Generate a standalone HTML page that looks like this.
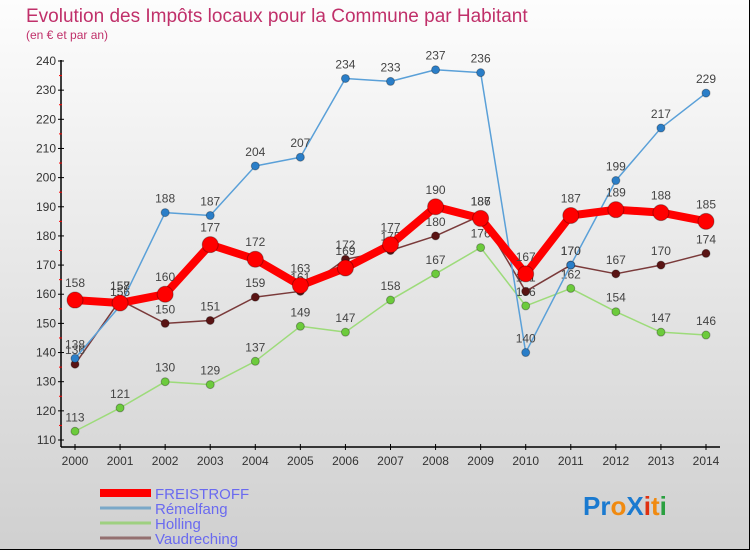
<!DOCTYPE html>
<html><head><meta charset="utf-8"><style>
body{margin:0}
#c{width:750px;height:550px;position:relative;overflow:hidden;box-sizing:border-box;border:1px solid #000;border-top:none;border-left:none;background:linear-gradient(#fdfdfd,#d0d0d0);font-family:"Liberation Sans",sans-serif}
</style></head><body>
<div id="c">
<svg id="s" width="750" height="550"></svg>
</div>
<script>
const years=[2000,2001,2002,2003,2004,2005,2006,2007,2008,2009,2010,2011,2012,2013,2014];
const freistroff=[158,157,160,177,172,163,169,177,190,186,167,187,189,188,185];
const remelfang=[138,156,188,187,204,207,234,233,237,236,140,170,199,217,229];
const holling=[113,121,130,129,137,149,147,158,167,176,156,162,154,147,146];
const vaudreching=[136,158,150,151,159,161,172,175,180,187,161,170,167,170,174];
const yTicks=[110,120,130,140,150,160,170,180,190,200,210,220,230,240];
const NS="http://www.w3.org/2000/svg";
const s=document.getElementById('s');
function X(i){return 75+i*(706-75)/14;}
function Y(v){return 440-(v-110)*(440-61)/130;}
function el(t,a,p){const e=document.createElementNS(NS,t);for(const k in a)e.setAttribute(k,a[k]);(p||s).appendChild(e);return e;}
let t=el('text',{x:26,y:22,fill:'#c0306a','font-size':19});t.textContent='Evolution des Impôts locaux pour la Commune par Habitant';

t=el('text',{x:26,y:39,fill:'#c0306a','font-size':12});t.textContent='(en € et par an)';

// axes
let ax=el('line',{x1:61,y1:60,x2:61,y2:447,stroke:'#000','stroke-width':1.5});

ax=el('line',{x1:61,y1:447,x2:720,y2:447,stroke:'#000','stroke-width':1.5});

yTicks.forEach((v,i)=>{
 el('line',{x1:58,y1:Y(v),x2:64,y2:Y(v),stroke:'#000'});
 if(i<yTicks.length-1)el('line',{x1:59,y1:Y(v+5),x2:62,y2:Y(v+5),stroke:'red'});
 const tt=el('text',{x:56,y:Y(v)+4,'text-anchor':'end','font-size':12,fill:'#333'});tt.textContent=v;
 
});
years.forEach((y,i)=>{
 el('line',{x1:X(i),y1:444,x2:X(i),y2:450,stroke:'#000'});
 const tt=el('text',{x:X(i),y:465,'text-anchor':'middle','font-size':12,fill:'#333'});tt.textContent=y;
 
});
function series(d,col,dot,w,r,name){
 const g=el('g',{});
 el('polyline',{points:d.map((v,i)=>X(i)+','+Y(v)).join(' '),fill:'none',stroke:col,'stroke-width':w,'stroke-linejoin':'round'},g);
 d.forEach((v,i)=>{
  const c=el('circle',{cx:X(i),cy:Y(v),r:r,fill:dot,stroke:'rgba(0,0,0,0.3)'},g);
  
  const tt=el('text',{x:X(i),y:Y(v)-10-(r>5?3:0),'text-anchor':'middle','font-size':12,fill:'#444'},g);tt.textContent=v;
 });
}
series(holling,'#9ddb7a','#6ccb3c',1.5,4,'holling');
series(vaudreching,'#7a3a3a','#5a1414',1.5,4,'vaudreching');
series(remelfang,'#5aa0d8','#2a7ec8',1.5,4,'remelfang');
series(freistroff,'#f00','#f00',8,8,'freistroff');
// legend
const leg=[['FREISTROFF','#f00',8],['Rémelfang','#7aa8c8',3],['Holling','#9ed080',3],['Vaudreching','#947070',3]];
leg.forEach((l,i)=>{
 const g=el('g',{});
 const y=493+i*15;
 el('line',{x1:100,y1:y,x2:151,y2:y,stroke:l[1],'stroke-width':l[2]},g);
 const tt=el('text',{x:155,y:y+6,'font-size':15,fill:'#6a6af0'},g);tt.textContent=l[0];
});
const lg=el('text',{x:583,y:515,'font-size':26,'font-weight':'bold'});

[['Pr','#1a7ad0'],['o','#f08a10'],['X','#1a7ad0'],['i','#e03010'],['t','#f08a10'],['i','#2aa040']].forEach(p=>{const ts=el('tspan',{fill:p[1]},lg);ts.textContent=p[0];});
</script>
</body></html>
